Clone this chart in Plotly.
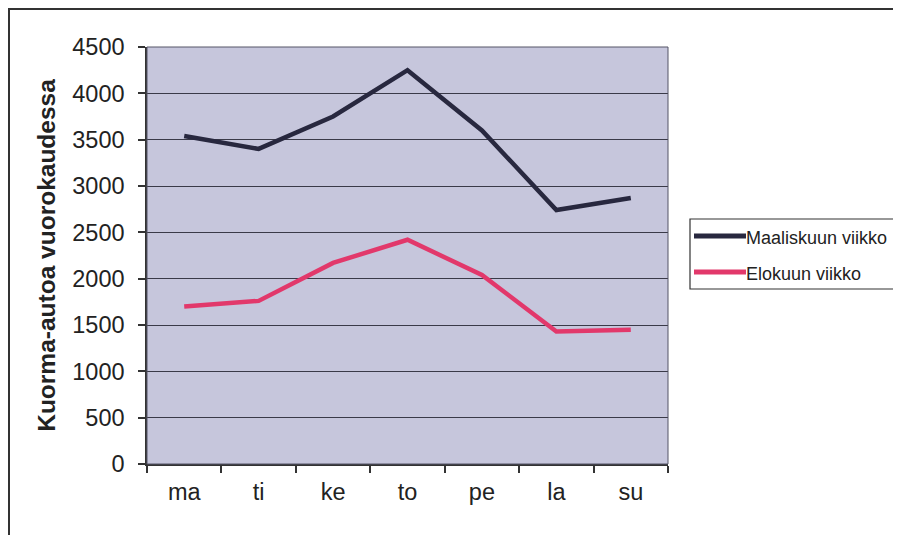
import plotly.graph_objects as go

days = ["ma", "ti", "ke", "to", "pe", "la", "su"]
maaliskuu = [3540, 3400, 3750, 4250, 3600, 2740, 2870]
elokuu = [1700, 1760, 2170, 2420, 2040, 1430, 1450]
series_names = ["Maaliskuun viikko", "Elokuun viikko"]
series_colors = ["#28283f", "#e2386b"]
y_ticks = [0, 500, 1000, 1500, 2000, 2500, 3000, 3500, 4000, 4500]

# page has an 8px body margin, so figure coords = page coords - 8
L, T, PW, PH = 139, 39, 521, 417
W, H = 893, 527


def px(fx):
    return (fx - L) / PW


def py(fy):
    return (T + PH - fy) / PH


fig = go.Figure()
for name, vals, col in zip(series_names, [maaliskuu, elokuu], series_colors):
    fig.add_trace(go.Scatter(x=days, y=vals, mode="lines", name=name,
                             line=dict(color=col, width=4.5), showlegend=False))

fig.update_layout(
    width=W, height=H,
    margin=dict(l=L, r=W - L - PW, t=T, b=H - T - PH),
    paper_bgcolor="white",
    plot_bgcolor="#c6c6dc",
    font=dict(family="Liberation Sans, Arial, sans-serif", color="#222222"),
    showlegend=False,
)
fig.update_xaxes(
    type="category", range=[-0.5, 6.5], tickson="boundaries",
    ticks="outside", ticklen=7, tickcolor="#333333", tickwidth=1.5,
    showline=True, linecolor="#333333", linewidth=1.5,
    showgrid=False, tickfont=dict(size=23.5), ticklabelstandoff=6,
)
fig.update_yaxes(
    range=[0, 4500], tickvals=y_ticks, ticks="outside", ticklen=7,
    tickcolor="#333333", tickwidth=1.5,
    showline=True, linecolor="#333333", linewidth=1.5,
    showgrid=True, gridcolor="#3a3a48", gridwidth=1.2,
    tickfont=dict(size=23.5), zeroline=False, ticklabelstandoff=9,
    title=dict(text="<b>Kuorma-autoa vuorokaudessa</b>", font=dict(size=24.5), standoff=10),
)
# plot-area border (top/right)
fig.add_shape(type="rect", xref="paper", yref="paper", x0=0, x1=1, y0=0, y1=1,
              line=dict(color="#555566", width=1), layer="above")
# outer chart border
fig.add_shape(type="rect", xref="paper", yref="paper",
              x0=px(1), x1=px(W + 20), y0=py(H + 20), y1=py(1),
              line=dict(color="#333333", width=2), layer="below")

# legend box (drawn manually to match the long line samples)
fig.add_shape(type="rect", xref="paper", yref="paper",
              x0=px(682), x1=px(W + 20), y0=py(281), y1=py(211),
              line=dict(color="#333333", width=1.2), fillcolor="white", layer="below")
for i, (name, col) in enumerate(zip(series_names, series_colors)):
    ly = 228 + 36 * i
    fig.add_shape(type="line", xref="paper", yref="paper",
                  x0=px(686), x1=px(738), y0=py(ly), y1=py(ly),
                  line=dict(color=col, width=5))
    fig.add_annotation(xref="paper", yref="paper", x=px(737), y=py(ly + 2),
                       xanchor="left", yanchor="middle", showarrow=False,
                       borderpad=0, text=name, font=dict(size=18, color="#222222"))

fig.write_html("out.html")
